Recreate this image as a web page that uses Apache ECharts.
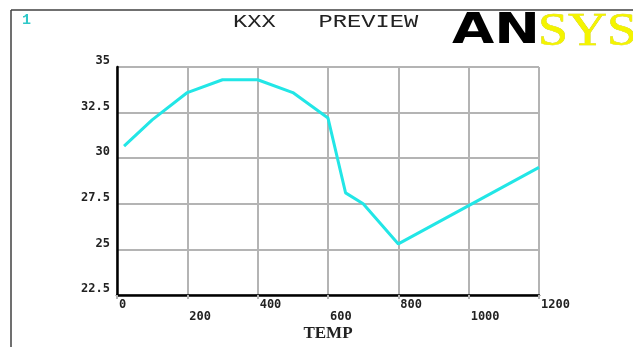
<!DOCTYPE html>
<html>
<head>
<meta charset="utf-8">
<script src="https://cdn.jsdelivr.net/npm/echarts@6/dist/echarts.min.js"></script>
<style>
html,body{margin:0;padding:0;background:#fff;}
#chart{width:633px;height:347px;}
</style>
</head>
<body>
<div id="chart"></div>
<script>
// Data (TEMP vs KXX)
var temps = [20, 100, 200, 300, 400, 500, 600, 650, 700, 800, 1000, 1200];
var kxx   = [30.66, 32.1, 33.6, 34.3, 34.3, 33.6, 32.2, 28.1, 27.5, 25.3, 27.4, 29.5];
var xTicks = [0, 200, 400, 600, 800, 1000, 1200];
var yTicks = [22.5, 25, 27.5, 30, 32.5, 35];
var titleText = 'KXX   PREVIEW';
var xName = 'TEMP';

var points = temps.map(function (t, i) { return [t, kxx[i]]; });

var chart = echarts.init(document.getElementById('chart'), null, {renderer: 'canvas'});
var labelFont = {
  fontFamily: 'DejaVu Sans Mono',
  fontWeight: 'bold',
  fontSize: 12,
  color: '#222'
};
chart.setOption({
  animation: false,
  backgroundColor: '#fff',
  grid: {left: 117, right: 94, top: 67, bottom: 52, containLabel: false, outerBoundsMode: 'none'},
  xAxis: {
    type: 'value',
    min: xTicks[0], max: xTicks[xTicks.length - 1], interval: 200,
    name: xName,
    nameLocation: 'middle',
    nameGap: 30,
    nameMoveOverlap: false,
    nameTextStyle: {fontFamily: 'Liberation Serif', fontWeight: 'bold', fontSize: 17, color: '#222'},
    axisLine: {show: true, onZero: false, lineStyle: {color: '#000', width: 2.5}},
    axisTick: {show: true, length: 4, inside: false, lineStyle: {color: '#b4b4b4', width: 2}},
    splitLine: {show: true, lineStyle: {color: '#b4b4b4', width: 2}},
    axisLabel: {
      show: true,
      align: 'left',
      margin: 4,
      showMaxLabel: true,
      showMinLabel: true,
      formatter: function (v) {
        var idx = xTicks.indexOf(v);
        return (idx % 2 === 1) ? '{lo|' + v + '}' : '{hi|' + v + '}';
      },
      rich: {
        hi: Object.assign({padding: [0, 0, 0, 2]}, labelFont),
        lo: Object.assign({padding: [12, 0, 0, 2]}, labelFont)
      }
    }
  },
  yAxis: {
    type: 'value',
    min: yTicks[0], max: yTicks[yTicks.length - 1], interval: 2.5,
    axisLine: {show: true, onZero: false, lineStyle: {color: '#000', width: 2.5}},
    axisTick: {show: false},
    splitLine: {show: true, lineStyle: {color: '#b4b4b4', width: 2}},
    axisLabel: Object.assign({
      show: true,
      margin: 7,
      verticalAlign: 'bottom',
      showMaxLabel: true,
      showMinLabel: true
    }, labelFont)
  },
  series: [{
    type: 'line',
    data: points,
    showSymbol: false,
    symbol: 'none',
    lineStyle: {color: '#22e6e6', width: 3},
    z: 5
  }],
  graphic: [
    {type: 'line', shape: {x1: 11, y1: 10, x2: 633, y2: 10}, style: {stroke: '#404040', lineWidth: 1.5}},
    {type: 'line', shape: {x1: 11, y1: 10, x2: 11, y2: 347}, style: {stroke: '#404040', lineWidth: 1.5}},
    {type: 'text', x: 22, y: 13, style: {text: '1', fontFamily: 'Liberation Mono', fontWeight: 'bold', fontSize: 15, fill: '#30c8c8', textAlign: 'left', textVerticalAlign: 'top'}},
    {type: 'text', x: 233, y: 13, scaleX: 1.32, style: {text: titleText, fontFamily: 'Liberation Mono', fontSize: 18, fill: '#222', textAlign: 'left', textVerticalAlign: 'top'}},
    {type: 'text', x: 452, y: 10, scaleX: 1.27, style: {text: 'AN', fontFamily: 'DejaVu Sans', fontWeight: 'bold', fontSize: 43, fill: '#000', textAlign: 'left', textVerticalAlign: 'top'}},
    {type: 'text', x: 538, y: 9, scaleX: 1.15, style: {text: 'SYS', fontFamily: 'Liberation Serif', fontSize: 47, fill: '#f4f400', stroke: '#c8c800', lineWidth: 0.5, textAlign: 'left', textVerticalAlign: 'top'}}
  ]
});
</script>
</body>
</html>
